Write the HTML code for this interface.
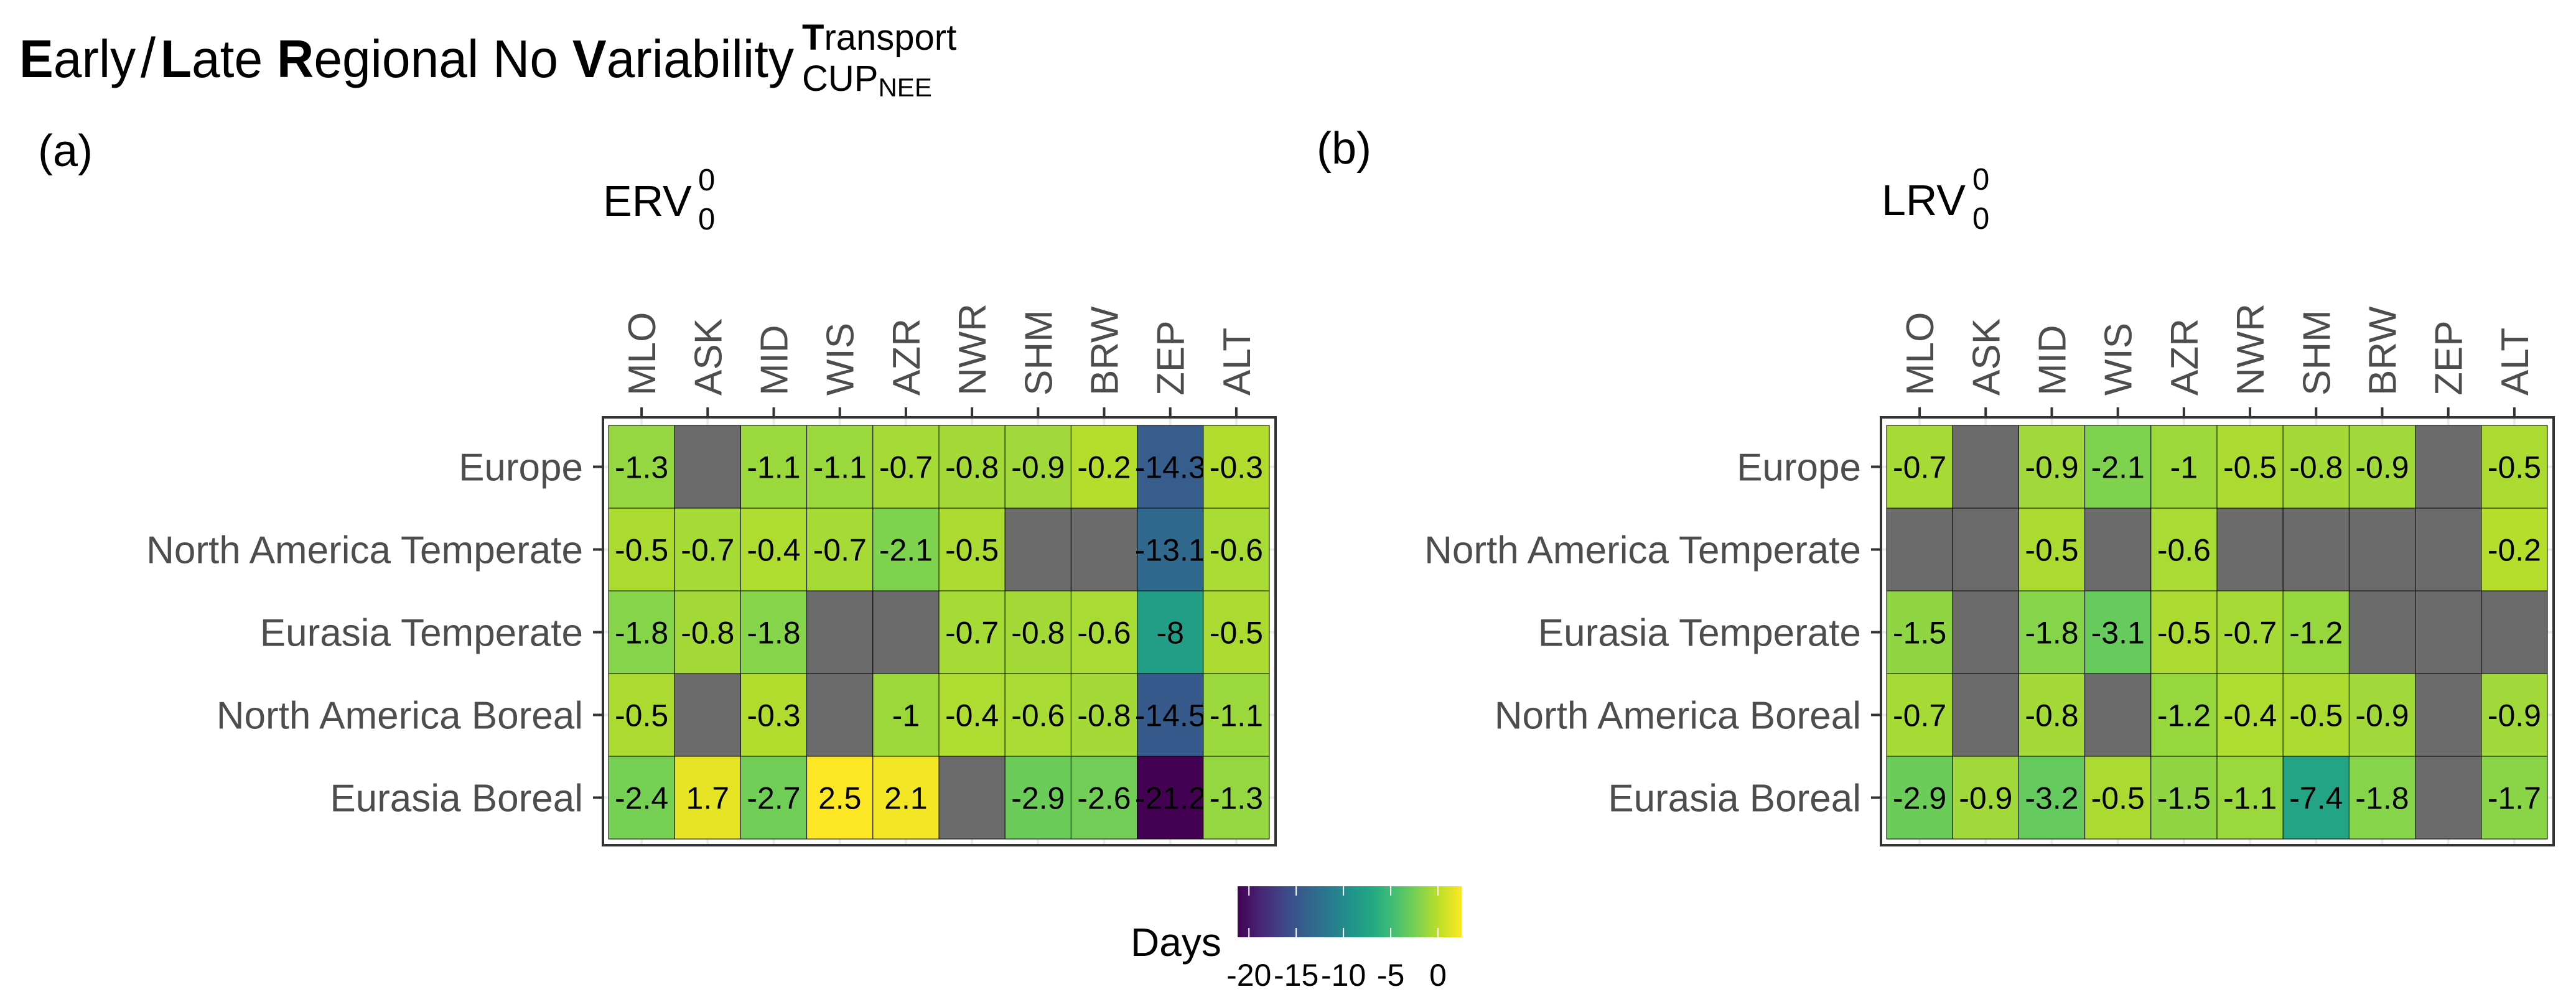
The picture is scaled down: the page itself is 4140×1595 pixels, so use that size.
<!DOCTYPE html>
<html><head><meta charset="utf-8"><style>
html,body{margin:0;padding:0;background:#fff;}
svg{display:block;font-family:"Liberation Sans",Arial,sans-serif;}
</style></head><body>
<svg id="chart" width="4140" height="1595" viewBox="0 0 4140 1595" xmlns="http://www.w3.org/2000/svg">
<text x="31" y="124" font-size="85" fill="#000" textLength="1245" lengthAdjust="spacingAndGlyphs"><tspan font-weight="bold">E</tspan>arly<tspan font-size="90" dx="8">/</tspan><tspan font-weight="bold" dx="8">L</tspan>ate <tspan font-weight="bold">R</tspan>egional No <tspan font-weight="bold">V</tspan>ariability</text>
<text x="1289" y="80" font-size="58" fill="#000"><tspan font-weight="bold">T</tspan>ransport</text>
<text x="1289" y="146" font-size="58" fill="#000">CUP<tspan font-size="42" dy="9">NEE</tspan></text>
<text x="61" y="267" font-size="72" fill="#000">(a)</text>
<text x="2116" y="263" font-size="72" fill="#000">(b)</text>
<text x="969" y="347" font-size="70" fill="#000">ERV</text>
<text x="1122" y="306" font-size="49" fill="#000">0</text>
<text x="1122" y="369" font-size="49" fill="#000">0</text>
<text x="3024" y="346" font-size="70" fill="#000">LRV</text>
<text x="3170" y="305" font-size="49" fill="#000">0</text>
<text x="3170" y="368" font-size="49" fill="#000">0</text>
<defs><linearGradient id="vir" x1="0" x2="1" y1="0" y2="0"></linearGradient></defs>
<g id="panels"></g>
<g id="legend"></g>
</svg>
<script>
const stations = ["MLO","ASK","MID","WIS","AZR","NWR","SHM","BRW","ZEP","ALT"];
const regions = ["Europe","North America Temperate","Eurasia Temperate","North America Boreal","Eurasia Boreal"];
const valsA = [
 [-1.3,null,-1.1,-1.1,-0.7,-0.8,-0.9,-0.2,-14.3,-0.3],
 [-0.5,-0.7,-0.4,-0.7,-2.1,-0.5,null,null,-13.1,-0.6],
 [-1.8,-0.8,-1.8,null,null,-0.7,-0.8,-0.6,-8,-0.5],
 [-0.5,null,-0.3,null,-1,-0.4,-0.6,-0.8,-14.5,-1.1],
 [-2.4,1.7,-2.7,2.5,2.1,null,-2.9,-2.6,-21.2,-1.3]
];
const valsB = [
 [-0.7,null,-0.9,-2.1,-1,-0.5,-0.8,-0.9,null,-0.5],
 [null,null,-0.5,null,-0.6,null,null,null,null,-0.2],
 [-1.5,null,-1.8,-3.1,-0.5,-0.7,-1.2,null,null,null],
 [-0.7,null,-0.8,null,-1.2,-0.4,-0.5,-0.9,null,-0.9],
 [-2.9,-0.9,-3.2,-0.5,-1.5,-1.1,-7.4,-1.8,null,-1.7]
];
const legendTicks = [-20,-15,-10,-5,0];
const colorMin = -21.2, colorMax = 2.5;

const NS="http://www.w3.org/2000/svg";
const vir=["#440154","#482475","#414487","#355f8d","#2a788e","#21918c","#22a884","#44bf70","#7ad151","#bddf26","#fde725"];
function hex(h){return [1,3,5].map(i=>parseInt(h.substr(i,2),16));}
function color(v){
  let t=(v-colorMin)/(colorMax-colorMin); t=Math.max(0,Math.min(1,t));
  const p=t*10, i=Math.min(9,Math.floor(p)), f=p-i;
  const a=hex(vir[i]), b=hex(vir[i+1]);
  return "rgb("+a.map((c,k)=>Math.round(c+(b[k]-c)*f)).join(",")+")";
}
function el(tag,attrs,parent){const e=document.createElementNS(NS,tag);for(const k in attrs)e.setAttribute(k,attrs[k]);parent.appendChild(e);return e;}
const root=document.getElementById("panels");

function panel(vals, bx, key){
  const g=el("g",{},root);
  
  
  const cellX0=bx+9, cellY0=684, cw=106.2, ch=133;
  const xs=i=>cellX0+cw*i, ys=j=>cellY0+ch*j;
  const bw=1081, by=671, bh=688;
  el("rect",{x:bx,y:by,width:bw,height:bh,fill:"#fff"},g);
  stations.forEach((s,i)=>el("line",{x1:xs(i)+cw/2,x2:xs(i)+cw/2,y1:by,y2:by+bh,stroke:"#ebebeb","stroke-width":4},g));
  regions.forEach((r,j)=>el("line",{x1:bx,x2:bx+bw,y1:ys(j)+ch/2,y2:ys(j)+ch/2,stroke:"#ebebeb","stroke-width":4},g));
  vals.forEach((row,j)=>row.forEach((v,i)=>{
    const r=el("rect",{x:xs(i),y:ys(j),width:cw,height:ch,fill:v===null?"#6b6b6b":color(v),stroke:"#000","stroke-width":1},g);
    
    
    if(v!==null){
      const t=el("text",{x:xs(i)+cw/2,y:ys(j)+ch/2+18,"font-size":50,"text-anchor":"middle",fill:"#000"},g);
      t.textContent=String(v);
      
      
    }
  }));
  el("rect",{x:bx,y:by,width:bw,height:bh,fill:"none",stroke:"#333","stroke-width":4},g);
  stations.forEach((s,i)=>{
    const cx=xs(i)+cw/2;
    el("line",{x1:cx,x2:cx,y1:by-16,y2:by,stroke:"#333","stroke-width":4},g);
    const t=el("text",{x:0,y:0,"font-size":62,fill:"#4d4d4d","text-anchor":"start",transform:"translate("+(cx+22)+","+(by-35)+") rotate(-90)"},g);
    t.textContent=s;
    
    
  });
  regions.forEach((r,j)=>{
    const cy=ys(j)+ch/2;
    el("line",{x1:bx-16,x2:bx,y1:cy,y2:cy,stroke:"#333","stroke-width":4},g);
    const t=el("text",{x:bx-32,y:cy+22,"font-size":62,fill:"#4d4d4d","text-anchor":"end"},g);
    t.textContent=r;
    
    
  });
}
panel(valsA,969,"panel-a");
panel(valsB,3023,"panel-b");

const grad=document.getElementById("vir");
vir.forEach((c,i)=>el("stop",{offset:(i*10)+"%","stop-color":c},grad));
const lg=document.getElementById("legend");
const lx0=1989,lx1=2349,ly=1425,lh=82;
const lscale=v=>lx0+(v-colorMin)/(colorMax-colorMin)*(lx1-lx0);
el("rect",{x:lx0,y:ly,width:lx1-lx0,height:lh,fill:"url(#vir)"},lg);
const dl=el("text",{x:1817,y:1537,"font-size":64,fill:"#000"},lg);
dl.textContent="Days";


legendTicks.forEach(v=>{
  const x=lscale(v);
  el("line",{x1:x,x2:x,y1:ly,y2:ly+15,stroke:"#fff","stroke-width":2},lg);
  el("line",{x1:x,x2:x,y1:ly+lh-15,y2:ly+lh,stroke:"#fff","stroke-width":2},lg);
  const t=el("text",{x:x,y:1585,"font-size":50,"text-anchor":"middle",fill:"#000"},lg);
  t.textContent=String(v);
  
  
});
</script>
</body></html>
